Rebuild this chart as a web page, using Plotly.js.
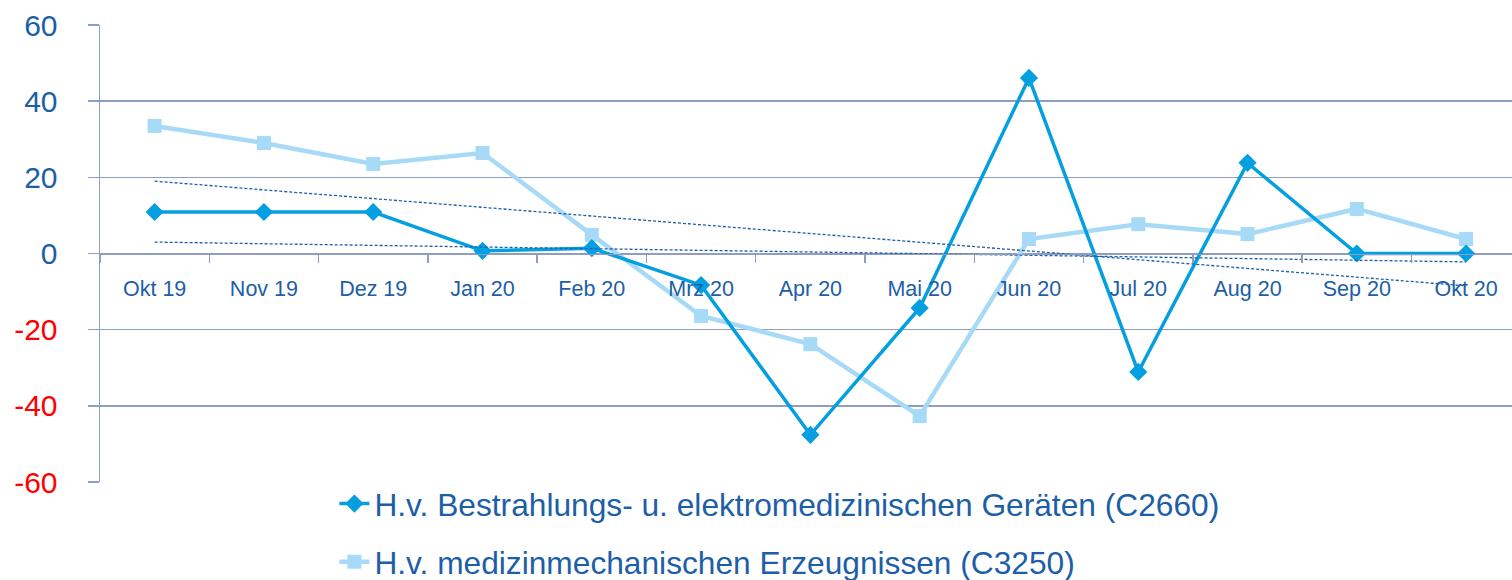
<!DOCTYPE html>
<html>
<head>
<meta charset="utf-8">
<script src="https://cdn.plot.ly/plotly-3.0.1.min.js"></script>
<style>
html,body{margin:0;padding:0;background:#fff;}
#chart{width:1512px;height:580px;}
</style>
</head>
<body>
<div id="chart"></div>
<script>
const months = ["Okt 19","Nov 19","Dez 19","Jan 20","Feb 20","Mrz 20","Apr 20","Mai 20","Jun 20","Jul 20","Aug 20","Sep 20","Okt 20"];
const seriesC2660 = [10.9, 10.9, 10.9, 0.7, 1.4, -8.3, -47.6, -14.3, 46.1, -31.1, 23.8, 0.0, 0.0];
const seriesC3250 = [33.5, 29.0, 23.5, 26.4, 4.9, -16.4, -23.8, -42.7, 3.8, 7.7, 5.1, 11.7, 3.8];
const trendC2660 = [3.0, -2.2];   // linear trend endpoints (Okt 19, Okt 20)
const trendC3250 = [19.0, -8.5];
const trendX = ["Okt 19", "Okt 20"];
const nameC2660 = "H.v. Bestrahlungs- u. elektromedizinischen Geräten (C2660)";
const nameC3250 = "H.v. medizinmechanischen Erzeugnissen (C3250)";
const yTickVals = [-60, -40, -20, 0, 20, 40, 60];
const yTickText = ["-60", "-40", "-20", "0", "20", "40", "60"];

const FONT = "'Liberation Sans', Arial, sans-serif";
const GRID = "#8e9dc0";
const DARKBLUE = "#1d5ea8";

const traces = [
  {
    x: months, y: seriesC3250, name: nameC3250, type: "scatter", mode: "lines+markers",
    line: {color: "#a6daf7", width: 4.5},
    marker: {symbol: "square", size: 14, color: "#a6daf7"},
    legendgroup: "b", cliponaxis: false, legendrank: 2
  },
  {
    x: months, y: seriesC2660, name: nameC2660, type: "scatter", mode: "lines+markers",
    line: {color: "#049fe0", width: 3.5},
    marker: {symbol: "diamond", size: 14, color: "#049fe0"},
    legendgroup: "a", cliponaxis: false, legendrank: 1
  },
  {
    x: trendX, y: trendC3250, type: "scatter", mode: "lines", showlegend: false,
    line: {color: DARKBLUE, width: 1.3, dash: "3px,2px"}, hoverinfo: "skip"
  },
  {
    x: trendX, y: trendC2660, type: "scatter", mode: "lines", showlegend: false,
    line: {color: DARKBLUE, width: 1.3, dash: "3px,2px"}, hoverinfo: "skip"
  }
];

const yTickTextColored = yTickText.map((t, i) =>
  yTickVals[i] < 0 ? '<span style="color:#ff0000">' + t + '</span>' : t);

const layout = {
  width: 1512, height: 580,
  margin: {l: 100, r: 0, t: 25, b: 98, autoexpand: false},
  paper_bgcolor: "#ffffff", plot_bgcolor: "#ffffff",
  showlegend: true,
  legend: {
    x: 0.166, xanchor: "left", y: 0.012, yanchor: "top",
    font: {family: FONT, size: 31.7, color: DARKBLUE},
    tracegroupgap: 14, bgcolor: "rgba(0,0,0,0)", itemwidth: 30
  },
  xaxis: {
    type: "category", range: [-0.5, 12.42],
    anchor: "free", position: 0.5,
    showgrid: false, zeroline: false,
    showline: true, linecolor: GRID, linewidth: 1.5,
    ticks: "outside", tickson: "boundaries", ticklen: 8, tickcolor: GRID, tickwidth: 1.5,
    tickfont: {family: FONT, size: 21.5, color: DARKBLUE},
    ticklabelstandoff: 15,
    fixedrange: true
  },
  yaxis: {
    range: [-60, 60], tickmode: "array", tickvals: yTickVals, ticktext: yTickTextColored,
    showgrid: true, gridcolor: GRID, gridwidth: 1.5,
    zeroline: false,
    showline: true, linecolor: GRID, linewidth: 1.5,
    ticks: "outside", ticklen: 11, tickcolor: GRID, tickwidth: 1.5,
    tickfont: {family: FONT, size: 30, color: DARKBLUE},
    ticklabelstandoff: 24,
    fixedrange: true
  }
};

Plotly.newPlot("chart", traces, layout, {displayModeBar: false, staticPlot: true});
</script>
</body>
</html>
